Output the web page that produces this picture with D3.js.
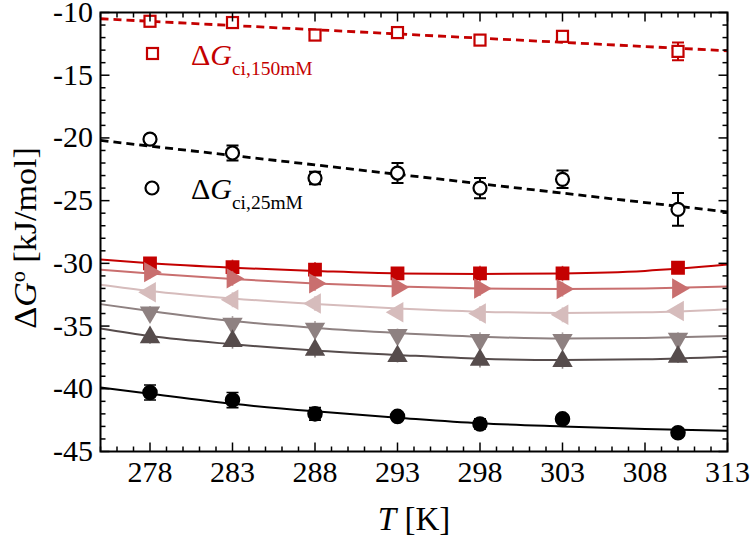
<!DOCTYPE html>
<html><head><meta charset="utf-8">
<script src="https://cdn.jsdelivr.net/npm/d3@7"></script>
<style>body{margin:0;background:#fff}svg{display:block}</style>
</head><body><svg id="c" width="750" height="541" style="font-family:'Liberation Serif','DejaVu Serif',serif"></svg>
<script>
const temps = [278, 283, 288, 293, 298, 303, 310];
// dashed-line (open marker) series
const g150 = [-10.7, -10.8, -11.8, -11.6, -12.2, -11.9, -13.1];
const g150Err = [0.2, 0.2, 0.2, 0.2, 0.3, 0.2, 0.7];
const g25 = [-20.1, -21.2, -23.2, -22.8, -24.0, -23.3, -25.7];
const g25Err = [0.3, 0.6, 0.5, 0.8, 0.8, 0.7, 1.3];
const fitLineT = [275, 313];
const fit150 = [-10.5, -13.05];
const fit25 = [-20.2, -25.9];
// solid-line (filled marker) series
const sSquare = [-30.0, -30.3, -30.5, -30.8, -30.8, -30.8, -30.35];
const sRight = [-30.7, -31.2, -31.6, -31.9, -32.0, -32.05, -32.0];
const sLeft = [-32.3, -32.9, -33.2, -33.9, -34.0, -34.1, -33.8];
const sDown = [-33.9, -34.8, -35.2, -35.7, -36.1, -36.1, -36.0];
const sUp = [-35.9, -36.2, -36.9, -37.4, -37.7, -37.8, -37.45];
const sCircle = [-40.3, -40.9, -42.0, -42.2, -42.8, -42.4, -43.5];
const sErr = [0.5, 0.6, 0.6, 0.5, 0.6, 0.6, 0.5];
const cErr = [0.6, 0.6, 0.5, 0.3, 0.4, 0.3, 0.3];
// fitted curves sampled
const curveT = [275, 278, 283, 288, 293, 298, 303, 308, 313];
const cSquare = [-29.7, -30.0, -30.35, -30.6, -30.8, -30.85, -30.8, -30.6, -30.1];
const cRight = [-30.5, -30.8, -31.25, -31.6, -31.85, -32.0, -32.05, -32.0, -31.85];
const cLeft = [-31.7, -32.2, -32.8, -33.25, -33.6, -33.85, -33.95, -33.9, -33.65];
const cDown = [-33.25, -33.8, -34.6, -35.15, -35.55, -35.85, -36.0, -35.95, -35.8];
const cUp = [-35.2, -35.8, -36.45, -36.95, -37.3, -37.6, -37.7, -37.65, -37.45];
const cCircle = [-39.9, -40.4, -41.2, -41.8, -42.3, -42.75, -43.0, -43.2, -43.35];
const xTicks = [278, 283, 288, 293, 298, 303, 308, 313];
const yTicks = [-10, -15, -20, -25, -30, -35, -40, -45];

const FONT = "'Liberation Serif','DejaVu Serif',serif";
const svg = d3.select("#c");
const L = 100.5, R = 727.5, T = 12.5, B = 451.5;
const x = d3.scaleLinear().domain([275, 313]).range([L, R]);
const y = d3.scaleLinear().domain([-45, -10]).range([B, T]);

const red = "#c40000";
const series = [
  {v: sSquare, c: cSquare, col: red, sym: "square", rot: 0, err: sErr},
  {v: sRight, c: cRight, col: "#c96f6f", sym: "tri", rot: 90, err: sErr},
  {v: sLeft, c: cLeft, col: "#d6bcbc", sym: "tri", rot: -90, err: sErr},
  {v: sDown, c: cDown, col: "#8e8181", sym: "tri", rot: 180, err: sErr},
  {v: sUp, c: cUp, col: "#564c4c", sym: "tri", rot: 0, err: sErr},
  {v: sCircle, c: cCircle, col: "#000", sym: "circle", rot: 0, err: cErr}
];

const g = svg.append("g");
g.append("defs").append("clipPath").attr("id","clip").append("rect").attr("x",L).attr("y",T).attr("width",R-L).attr("height",B-T);
const plot = g.append("g").attr("clip-path","url(#clip)");

const line = d3.line().x(d=>x(d[0])).y(d=>y(d[1])).curve(d3.curveMonotoneX);
const symSize = {square: 190, tri: 180, circle: 190};
const symType = {square: d3.symbolSquare, tri: d3.symbolTriangle, circle: d3.symbolCircle};

series.forEach(s => {
  plot.append("path").datum(curveT.map((t,i)=>[t, s.c[i]])).attr("d", line)
    .attr("fill","none").attr("stroke", s.col).attr("stroke-width", 2);
});
series.forEach(s => {
  const pts = temps.map((t,i)=>({t, v: s.v[i], e: s.err[i]}));
  const eg = plot.append("g").attr("stroke", s.col).attr("stroke-width", 1.6).attr("opacity", s.sym==="circle"?1:0.7);
  pts.forEach(p => {
    eg.append("line").attr("x1", x(p.t)).attr("x2", x(p.t)).attr("y1", y(p.v - p.e)).attr("y2", y(p.v + p.e));
    if (s.sym === "circle") {
      [p.v - p.e, p.v + p.e].forEach(yy => eg.append("line").attr("x1", x(p.t)-6).attr("x2", x(p.t)+6).attr("y1", y(yy)).attr("y2", y(yy)));
    }
  });
  plot.append("g").selectAll("path").data(pts).join("path")
    .attr("d", d3.symbol().type(symType[s.sym]).size(symSize[s.sym]))
    .attr("transform", p => `translate(${x(p.t)},${y(p.v)}) rotate(${s.rot})`)
    .attr("fill", s.col);
});

// dashed fits
[[fit150, red], [fit25, "#000"]].forEach(([f, col]) => {
  plot.append("path").datum(fitLineT.map((t,i)=>[t, f[i]])).attr("d", d3.line().x(d=>x(d[0])).y(d=>y(d[1])))
    .attr("fill","none").attr("stroke", col).attr("stroke-width", 2.8).attr("stroke-dasharray","8,5");
});
// open markers with error bars
[[g150, g150Err, red, "square"], [g25, g25Err, "#000", "circle"]].forEach(([vals, errs, col, sym]) => {
  const og = plot.append("g").attr("stroke", col).attr("fill","#fff");
  temps.forEach((t,i) => {
    const cx = x(t), v = vals[i], e = errs[i];
    og.append("line").attr("x1",cx).attr("x2",cx).attr("y1",y(v-e)).attr("y2",y(v+e)).attr("stroke-width",2);
    [v-e, v+e].forEach(yy => og.append("line").attr("x1",cx-6).attr("x2",cx+6).attr("y1",y(yy)).attr("y2",y(yy)).attr("stroke-width",2));
    if (sym === "square") og.append("rect").attr("x",cx-5.5).attr("y",y(v)-5.5).attr("width",11).attr("height",11).attr("stroke-width",2.2);
    else og.append("circle").attr("cx",cx).attr("cy",y(v)).attr("r",6.5).attr("stroke-width",2.2);
  });
});

// legend
const lg = g.append("g");
lg.append("rect").attr("x",147).attr("y",48).attr("width",11).attr("height",11).attr("fill","#fff").attr("stroke",red).attr("stroke-width",2.2);
lg.append("circle").attr("cx",152).attr("cy",188).attr("r",6.5).attr("fill","#fff").attr("stroke","#000").attr("stroke-width",2.2);
function legendText(xp, yp, col, sub) {
  const t = lg.append("text").attr("x", xp).attr("y", yp).attr("fill", col).style("font-family", FONT).style("font-size","30px");
  t.append("tspan").text("Δ");
  t.append("tspan").style("font-style","italic").text("G");
  t.append("tspan").attr("dy", 10).style("font-size","19.5px").text(sub);
}
legendText(191, 65, red, "ci,150mM");
legendText(191, 199, "#000", "ci,25mM");

// frame & axes
g.append("rect").attr("x",L).attr("y",T).attr("width",R-L).attr("height",B-T).attr("fill","none").attr("stroke","#000").attr("stroke-width",2);
const xMinor = d3.range(275, 313.01, 1);
const yMinor = d3.range(-45, -9.99, 1);
const tk = g.append("g").attr("stroke","#000").attr("stroke-width",1.5);
xMinor.forEach(t => {
  const major = xTicks.includes(t);
  const len = major ? 9 : 5;
  tk.append("line").attr("x1",x(t)).attr("x2",x(t)).attr("y1",B).attr("y2",B-len);
  tk.append("line").attr("x1",x(t)).attr("x2",x(t)).attr("y1",T).attr("y2",T+len);
});
yMinor.forEach(v => {
  const major = yTicks.includes(Math.round(v));
  const len = major ? 9 : 5;
  tk.append("line").attr("x1",L).attr("x2",L+len).attr("y1",y(v)).attr("y2",y(v));
  tk.append("line").attr("x1",R).attr("x2",R-len).attr("y1",y(v)).attr("y2",y(v));
});
g.append("g").selectAll("text").data(xTicks).join("text")
  .attr("x", d=>x(d)).attr("y", 482).attr("text-anchor","middle").style("font-family", FONT).style("font-size","30px").text(d=>d);
g.append("g").selectAll("text").data(yTicks).join("text")
  .attr("x", 93).attr("y", d=>y(d)+9.5).attr("text-anchor","end").style("font-family", FONT).style("font-size","30px").text(d=>d);

// axis titles
const xt = g.append("text").attr("x", 414).attr("y", 530).attr("text-anchor","middle").style("font-family", FONT).style("font-size","33px");
xt.append("tspan").style("font-style","italic").text("T");
xt.append("tspan").text(" [K]");
const yt = g.append("text").attr("transform","translate(36,238) rotate(-90) scale(1.1,1)").attr("text-anchor","middle").style("font-family", FONT).style("font-size","31px");
yt.append("tspan").text("Δ");
yt.append("tspan").style("font-style","italic").text("G");
yt.append("tspan").attr("dy",-11).style("font-size","20px").text("o");
yt.append("tspan").attr("dy",11).text(" [kJ/mol]");
</script></body></html>
